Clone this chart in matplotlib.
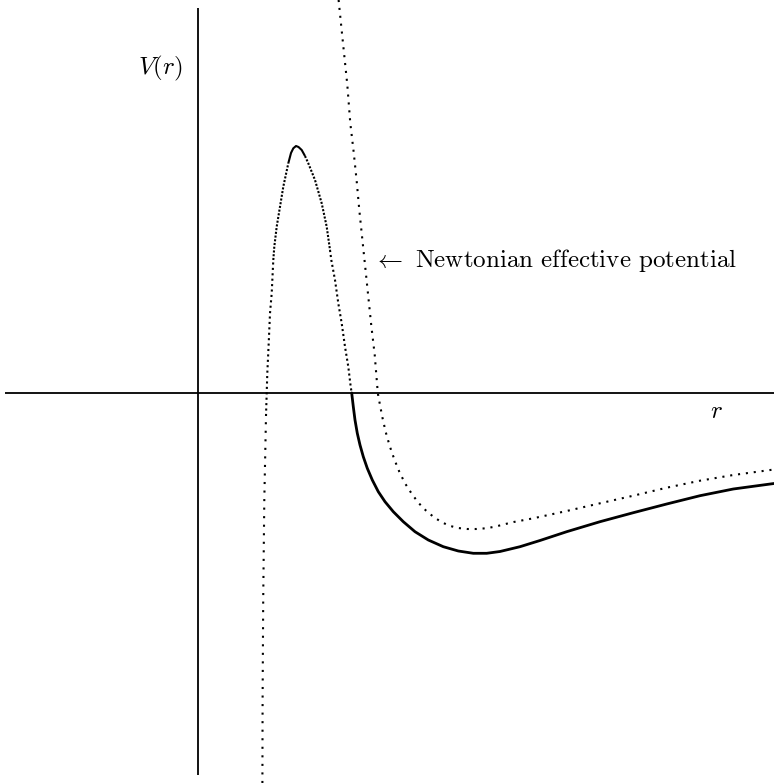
import matplotlib
matplotlib.use("Agg")
import matplotlib.pyplot as plt

# -----------------------------
# DATA (r, V)
# -----------------------------
# Newtonian effective potential (dotted)
newton_r = [1.406, 1.433, 1.463, 1.493, 1.523, 1.557, 1.587, 1.613, 1.643, 1.673,
            1.703, 1.733, 1.767, 1.798, 1.813, 1.843, 1.877, 1.917, 1.963, 2.013,
            2.070, 2.137, 2.203, 2.277, 2.353, 2.433, 2.513, 2.600, 2.690, 2.783,
            2.877, 2.970, 3.063, 3.157, 3.353, 3.687, 4.020, 4.353, 4.687, 5.020,
            5.353, 5.760]
newton_V = [3.930, 3.663, 3.373, 3.083, 2.697, 2.407, 2.117, 1.830, 1.540, 1.253,
            0.963, 0.673, 0.383, 0.000, -0.083, -0.240, -0.390, -0.530, -0.663, -0.787,
            -0.903, -1.007, -1.097, -1.173, -1.237, -1.290, -1.327, -1.350, -1.360, -1.360,
            -1.353, -1.337, -1.313, -1.290, -1.253, -1.180, -1.103, -1.027, -0.947, -0.877,
            -0.820, -0.765]

# Relativistic potential, outer branch (solid)
gr_outer_r = [1.537, 1.553, 1.570, 1.593, 1.620, 1.653, 1.693, 1.743, 1.803, 1.870,
              1.953, 2.053, 2.170, 2.303, 2.453, 2.603, 2.753, 2.887, 3.020, 3.220,
              3.420, 3.687, 4.020, 4.353, 4.687, 5.020, 5.353, 5.760]
gr_outer_V = [0.000, -0.137, -0.270, -0.403, -0.520, -0.637, -0.753, -0.870, -0.987, -1.087,
              -1.187, -1.287, -1.387, -1.470, -1.537, -1.580, -1.603, -1.603, -1.585, -1.537,
              -1.475, -1.387, -1.287, -1.197, -1.110, -1.027, -0.960, -0.905]

# Relativistic potential, inner branch with the barrier (dotted)
gr_inner_r = [0.644, 0.646, 0.652, 0.663, 0.680, 0.687, 0.693, 0.707, 0.720, 0.737,
              0.753, 0.763, 0.787, 0.820, 0.853, 0.903, 0.930, 0.953, 0.980, 1.005,
              1.037, 1.070, 1.103, 1.170, 1.237, 1.287, 1.320, 1.333, 1.370, 1.403,
              1.437, 1.470, 1.503, 1.527, 1.537]
gr_inner_V = [-3.900, -3.070, -2.070, -1.070, -0.230, 0.000, 0.197, 0.497, 0.797, 0.997,
              1.330, 1.463, 1.663, 1.863, 2.063, 2.297, 2.400, 2.447, 2.470, 2.460,
              2.430, 2.370, 2.297, 2.130, 1.897, 1.663, 1.430, 1.330, 1.130, 0.897,
              0.697, 0.463, 0.263, 0.063, 0.000]

# -----------------------------
# PLOT
# -----------------------------
plt.rcParams["mathtext.fontset"] = "cm"
plt.rcParams["font.family"] = ["cmr10", "DejaVu Sans"]
plt.rcParams["axes.formatter.use_mathtext"] = True

fig = plt.figure(figsize=(7.74, 7.83), dpi=100)
ax = fig.add_axes([0, 0, 1, 1])
ax.set_xlim(-1.98, 5.76)
ax.set_ylim(-3.90, 3.93)
ax.axis("off")

# coordinate axes
ax.plot([-1.93, 5.76], [0, 0], color="black", lw=1.3, solid_capstyle="butt")
ax.plot([0, 0], [-3.82, 3.85], color="black", lw=1.3, solid_capstyle="butt")

ax.plot(newton_r, newton_V, color="black", lw=1.5,
        linestyle=(0, (1, 2.8)), dash_capstyle="butt")

# inner branch: dots get denser towards the top of the barrier
segments = [
    (0, 5, (0, (1, 3.1))),
    (4, 11, (0, (1, 1.6))),
    (10, 16, (0, (1, 0.8))),
    (15, 22, "-"),
    (21, 27, (0, (1, 0.8))),
    (26, 35, (0, (1, 1.4))),
]
for i0, i1, style in segments:
    ax.plot(gr_inner_r[i0:i1], gr_inner_V[i0:i1], color="black", lw=1.5,
            linestyle=style, dash_capstyle="butt", solid_capstyle="butt")

ax.plot(gr_outer_r, gr_outer_V, color="black", lw=2.0, solid_capstyle="round")

ax.text(-0.38, 3.25, r"$V(r)$", fontsize=18, ha="center", va="center")
ax.text(5.18, -0.19, r"$r$", fontsize=18, ha="center", va="center")
ax.text(1.75, 1.33, r"$\leftarrow$ Newtonian effective potential",
        fontsize=18, ha="left", va="center")

fig.savefig("out.png", dpi=100)
plt.close(fig)
